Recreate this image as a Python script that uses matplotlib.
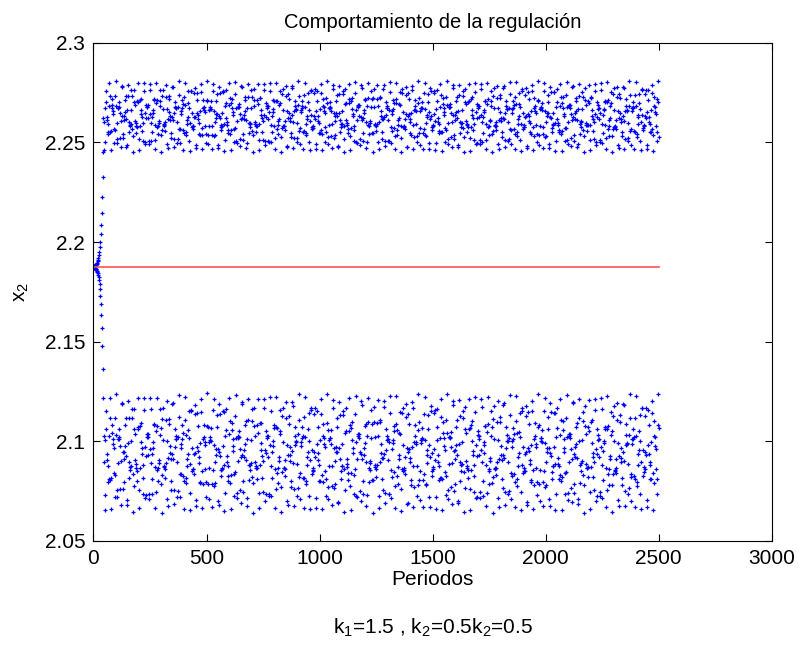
import numpy as np
import matplotlib
matplotlib.use("Agg")
import matplotlib.pyplot as plt

plt.rcParams['font.family'] = ['Liberation Sans', 'DejaVu Sans']

# values
n_periods = 2500
x_eq = 2.1875              # red reference line (equilibrium)
upper_band = (2.245, 2.281)
lower_band = (2.064, 2.124)
transient_end = 46         # period where the orbit reaches the bands
growth = 1.135             # per-period growth of the deviation during the transient
xticks = [0, 500, 1000, 1500, 2000, 2500, 3000]
yticks = [2.05, 2.1, 2.15, 2.2, 2.25, 2.3]
ytick_labels = ['2.05', '2.1', '2.15', '2.2', '2.25', '2.3']

# simulated orbit: individual points cannot be read, so the quasi-periodic
# two-band motion is rebuilt from the band limits above
n = np.arange(1, n_periods + 1)
x2 = np.empty(n_periods)
tr = n < transient_end
eps = 0.045 / growth ** 40
x2[tr] = x_eq + eps * (-1.0) ** n[tr] * growth ** n[tr]

m = n[~tr] // 2
theta = 2 * np.pi * (1 / 7 + 1 / 1700) * m
phi = 2 * np.pi * (2 / 9 + 1 / 2300) * m
g = 0.62 * np.cos(theta) + 0.38 * np.cos(phi + 0.7)
up = (n[~tr] % 2 == 0)
cu, au = np.mean(upper_band), np.diff(upper_band)[0] / 2
cl, al = np.mean(lower_band), np.diff(lower_band)[0] / 2
x2[~tr] = np.where(up, cu + au * g, cl + al * g)

fig = plt.figure(figsize=(7.99, 6.50), dpi=100)
ax = fig.add_axes([0.117, 0.168, 0.849, 0.766])

ax.plot(n, x2, '+', color='blue', markersize=3.2, markeredgewidth=0.9)
ax.plot([0, n_periods], [x_eq, x_eq], color='#ff5050', linewidth=1.2)

ax.set_xlim(0, 3000)
ax.set_ylim(2.05, 2.3)
ax.set_xticks(xticks)
ax.set_yticks(yticks)
ax.set_yticklabels(ytick_labels)
ax.tick_params(direction='in', top=True, right=True, length=5, labelsize=15, pad=6)
for s in ax.spines.values():
    s.set_linewidth(0.8)

ax.set_title('Comportamiento de la regulación', fontsize=14.5, pad=11)
ax.set_xlabel('Periodos', fontsize=15, labelpad=1)
ax.set_ylabel('$\\mathregular{x_2}$', fontsize=15, labelpad=10)
ax.text(0.5, -0.175, '$\\mathregular{k_1}$=1.5 , $\\mathregular{k_2}$=0.5$\\mathregular{k_2}$=0.5',
        transform=ax.transAxes, ha='center', va='center', fontsize=15)

fig.savefig('out.png', dpi=100)
